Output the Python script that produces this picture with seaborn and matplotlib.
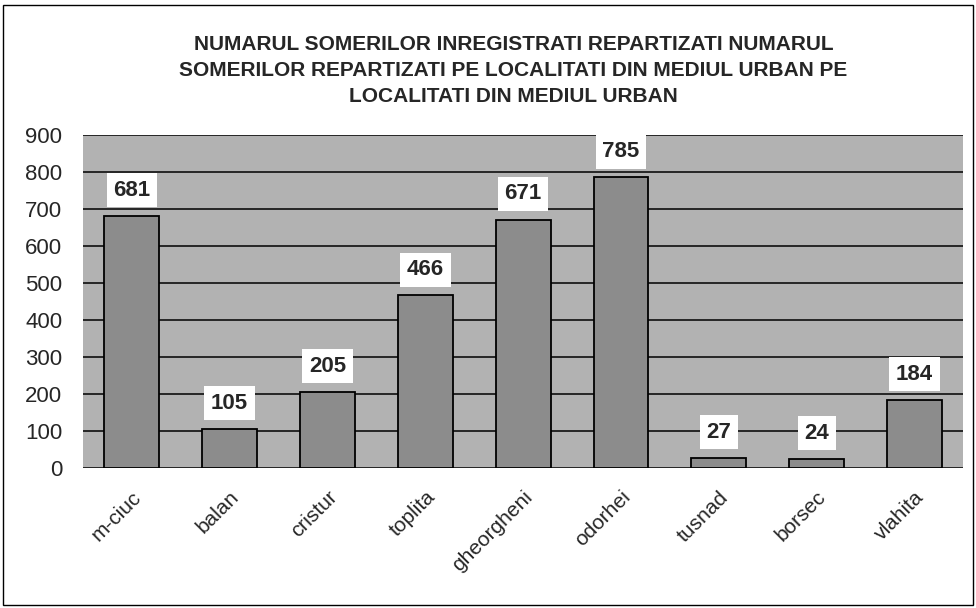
import matplotlib
matplotlib.use("Agg")
import matplotlib.pyplot as plt
import pandas as pd
import seaborn as sns
from matplotlib.patches import Rectangle

localitati = ["m-ciuc", "balan", "cristur", "toplita", "gheorgheni",
              "odorhei", "tusnad", "borsec", "vlahita"]
someri = [681, 105, 205, 466, 671, 785, 27, 24, 184]
y_ticks = [0, 100, 200, 300, 400, 500, 600, 700, 800, 900]
titlu = ("NUMARUL SOMERILOR INREGISTRATI REPARTIZATI NUMARUL\n"
         "SOMERILOR REPARTIZATI PE LOCALITATI DIN MEDIUL URBAN PE\n"
         "LOCALITATI DIN MEDIUL URBAN")

df = pd.DataFrame({"localitate": localitati, "someri": someri})

sns.set_theme(style="white")
plt.rcParams["font.family"] = ["Liberation Sans", "DejaVu Sans"]

fig = plt.figure(figsize=(9.76, 6.08), dpi=100)
ax = fig.add_axes([0.085, 0.2303, 0.902, 0.548])
ax.set_facecolor("#b2b2b2")

sns.barplot(data=df, x="localitate", y="someri", color="#8c8c8c",
            edgecolor="black", linewidth=1.3, width=0.56, saturation=1, ax=ax)

ax.set_ylim(0, 900)
ax.set_yticks(y_ticks)
ax.yaxis.grid(True, color="black", linewidth=1.1)
ax.set_axisbelow(True)
for s in ax.spines.values():
    s.set_visible(False)
ax.tick_params(axis="y", length=0, labelsize=16, pad=15)
ax.tick_params(axis="x", length=0, labelsize=15, pad=14)
plt.setp(ax.get_xticklabels(), rotation=45, ha="right", rotation_mode="anchor")
ax.set_xlabel("")
ax.set_ylabel("")

for i, v in enumerate(someri):
    ax.annotate(str(v), (i, v), xytext=(0, 11), textcoords="offset points",
                ha="center", va="bottom", fontsize=16, fontweight="bold",
                bbox=dict(boxstyle="square,pad=0.3", facecolor="white",
                          edgecolor="none"))

fig.text(0.526, 0.942, titlu, ha="center", va="top", fontsize=15,
         fontweight="bold", linespacing=1.45)

fig.patches.append(Rectangle((0.003, 0.005), 0.994, 0.986, transform=fig.transFigure,
                             fill=False, edgecolor="black", linewidth=1))

fig.savefig("out.png", dpi=100)
